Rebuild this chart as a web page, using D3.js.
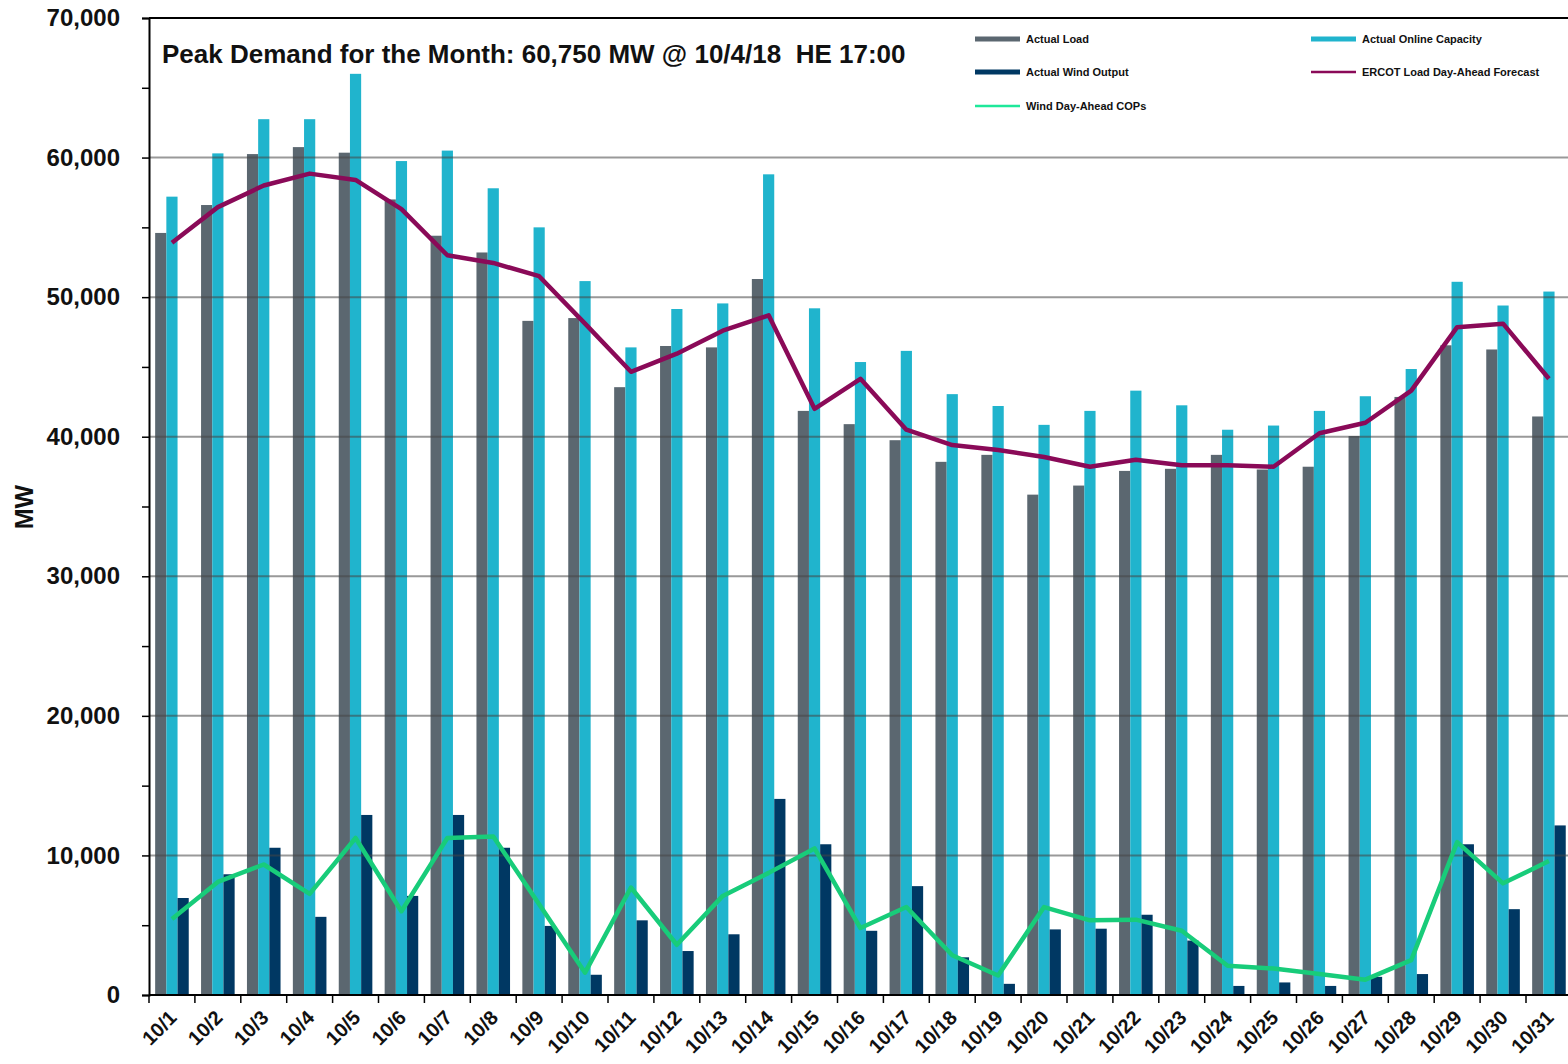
<!DOCTYPE html>
<html>
<head>
<meta charset="utf-8">
<script src="https://cdn.jsdelivr.net/npm/d3@7"></script>
<style>
  body { margin: 0; background: #fff; }
  svg text { font-family: Arial, "Liberation Sans", sans-serif; font-weight: bold; }
</style>
</head>
<body>
<div id="chart"></div>
<script>
// data
const days = ['10/1','10/2','10/3','10/4','10/5','10/6','10/7','10/8','10/9','10/10',
  '10/11','10/12','10/13','10/14','10/15','10/16','10/17','10/18','10/19','10/20',
  '10/21','10/22','10/23','10/24','10/25','10/26','10/27','10/28','10/29','10/30','10/31']
const actualLoad = [54600, 56600, 60250, 60750, 60350, 57000, 54400, 53200, 48300, 48500,
  43550, 46500, 46400, 51300, 41850, 40900, 39750, 38200, 38700, 35850,
  36500, 37550, 37700, 38700, 37650, 37850, 40050, 42850, 46550, 46250, 41450]
const onlineCapacity = [57200, 60300, 62750, 62750, 66000, 59750, 60500, 57800, 55000, 51150,
  46400, 49150, 49550, 58800, 49200, 45350, 46150, 43050, 42200, 40850,
  41850, 43300, 42250, 40500, 40800, 41850, 42900, 44850, 51100, 49400, 50400]
const windOutput = [6950, 8650, 10550, 5600, 12900, 7100, 12900, 10550, 4950, 1450,
  5350, 3150, 4350, 14050, 10800, 4600, 7800, 2700, 800, 4700,
  4750, 5750, 3900, 650, 900, 650, 1300, 1500, 10800, 6150, 12150]
const loadForecast = [53900, 56450, 58000, 58850, 58400, 56300, 53000, 52450, 51500, 48100,
  44650, 45950, 47600, 48700, 42000, 44150, 40500, 39400, 39050, 38550,
  37850, 38350, 37950, 37950, 37850, 40250, 41000, 43300, 47850, 48100, 44150]
const windCOP = [5450, 8100, 9350, 7250, 11250, 6000, 11250, 11350, 6500, 1600,
  7700, 3600, 7100, 8750, 10500, 4800, 6300, 2850, 1400, 6300,
  5350, 5400, 4600, 2100, 1900, 1500, 1100, 2500, 10950, 8000, 9600]
const yTicks = [0, 10000, 20000, 30000, 40000, 50000, 60000, 70000]
const title = 'Peak Demand for the Month: 60,750 MW @ 10/4/18  HE 17:00'

const W = 1568, H = 1064
const mLeft = 149, mTop = 18, mBottom = 995, bandW = 45.9

const svg = d3.select('#chart').append('svg')
  .attr('width', W).attr('height', H)

const x = d3.scaleBand().domain(days).range([mLeft, mLeft + bandW * days.length])
const y = d3.scaleLinear().domain([0, 70000]).range([mBottom, mTop])

// 每組三根柱子
const barKeys = ['load', 'cap', 'wind']
const xSub = d3.scaleBand().domain(barKeys).range([0, x.bandwidth()]).paddingInner(0).paddingOuter(0.55)
const barColor = { load: '#5b6770', cap: '#20b4cd', wind: '#003863' }
const barData = { load: actualLoad, cap: onlineCapacity, wind: windOutput }

const rows = []
days.forEach((d, i) => barKeys.forEach(k => rows.push({ day: d, key: k, v: barData[k][i] })))

svg.append('g').selectAll('rect')
  .data(rows)
  .join('rect')
  .attr('x', d => x(d.day) + xSub(d.key))
  .attr('width', xSub.bandwidth())
  .attr('y', d => y(d.v))
  .attr('height', d => y(0) - y(d.v))
  .attr('fill', d => barColor[d.key])

// gridlines over the bars
svg.append('g').selectAll('line')
  .data(yTicks.filter(t => t > 0 && t < 70000))
  .join('line')
  .attr('x1', mLeft).attr('x2', W)
  .attr('y1', d => y(d)).attr('y2', d => y(d))
  .attr('stroke', 'rgba(70,70,70,0.55)')
  .attr('stroke-width', 2)

// lines
const lineGen = d3.line()
  .x((d, i) => x(days[i]) + x.bandwidth() / 2)
  .y(d => y(d))

svg.append('path').datum(loadForecast)
  .attr('fill', 'none').attr('stroke', '#8a0a58').attr('stroke-width', 4.5)
  .attr('stroke-linejoin', 'round')
  .attr('d', lineGen)

svg.append('path').datum(windCOP)
  .attr('fill', 'none').attr('stroke', '#18cc7a').attr('stroke-width', 4.5)
  .attr('stroke-linejoin', 'round')
  .attr('d', lineGen)

// y axis
const yAxis = d3.axisLeft(y)
  .tickValues(d3.range(0, 70001, 5000))
  .tickSize(7)
  .tickFormat(d => d % 10000 === 0 ? d3.format(',')(d) : '')
const yG = svg.append('g').attr('transform', `translate(${mLeft},0)`).call(yAxis)
yG.select('.domain').attr('stroke', '#000').attr('stroke-width', 2)
yG.selectAll('.tick line').attr('stroke', '#000').attr('stroke-width', 1.5)
yG.selectAll('.tick text')
  .attr('x', -29)
  .attr('font-size', 24)
  .attr('fill', '#111')
  .attr('font-family', 'Arial, "Liberation Sans", sans-serif')
  .attr('font-weight', 'bold')

// top frame
svg.append('line')
  .attr('x1', mLeft).attr('x2', W)
  .attr('y1', mTop).attr('y2', mTop)
  .attr('stroke', '#000').attr('stroke-width', 2)

// x axis
const xG = svg.append('g').attr('transform', `translate(0,${mBottom})`)
xG.append('line').attr('x1', mLeft).attr('x2', W).attr('stroke', '#000').attr('stroke-width', 2)
xG.selectAll('.tk')
  .data(days)
  .join('line')
  .attr('class', 'tk')
  .attr('x1', d => x(d)).attr('x2', d => x(d))
  .attr('y1', 0).attr('y2', 8)
  .attr('stroke', '#000').attr('stroke-width', 1.5)
xG.selectAll('text')
  .data(days)
  .join('text')
  .attr('transform', d => `translate(${x(d) + x.bandwidth() / 2 + 6},24) rotate(-45)`)
  .attr('text-anchor', 'end')
  .attr('font-size', 20)
  .attr('fill', '#111')
  .text(d => d)

// y title
svg.append('text')
  .attr('transform', 'translate(33,507) rotate(-90)')
  .attr('text-anchor', 'middle')
  .attr('font-size', 25)
  .attr('fill', '#111')
  .text('MW')

// chart title
svg.append('text')
  .attr('x', 162).attr('y', 63)
  .attr('font-size', 26)
  .attr('fill', '#111')
  .style('white-space', 'pre')
  .text(title)

// legend
const legend = [
  { name: 'Actual Load', color: barColor.load, w: 5, x: 975, y: 39 },
  { name: 'Actual Online Capacity', color: barColor.cap, w: 5, x: 1311, y: 39 },
  { name: 'Actual Wind Output', color: barColor.wind, w: 5, x: 975, y: 72 },
  { name: 'ERCOT Load Day-Ahead Forecast', color: '#8a0a58', w: 2.5, x: 1311, y: 72 },
  { name: 'Wind Day-Ahead COPs', color: '#1ee89a', w: 2.5, x: 975, y: 106 }
]
const lg = svg.append('g').selectAll('g').data(legend).join('g')
lg.append('line')
  .attr('x1', d => d.x).attr('x2', d => d.x + 45)
  .attr('y1', d => d.y).attr('y2', d => d.y)
  .attr('stroke', d => d.color).attr('stroke-width', d => d.w)
lg.append('text')
  .attr('x', d => d.x + 51).attr('y', d => d.y + 4)
  .attr('font-size', 11)
  .attr('fill', '#111')
  .text(d => d.name)
</script>
</body>
</html>
